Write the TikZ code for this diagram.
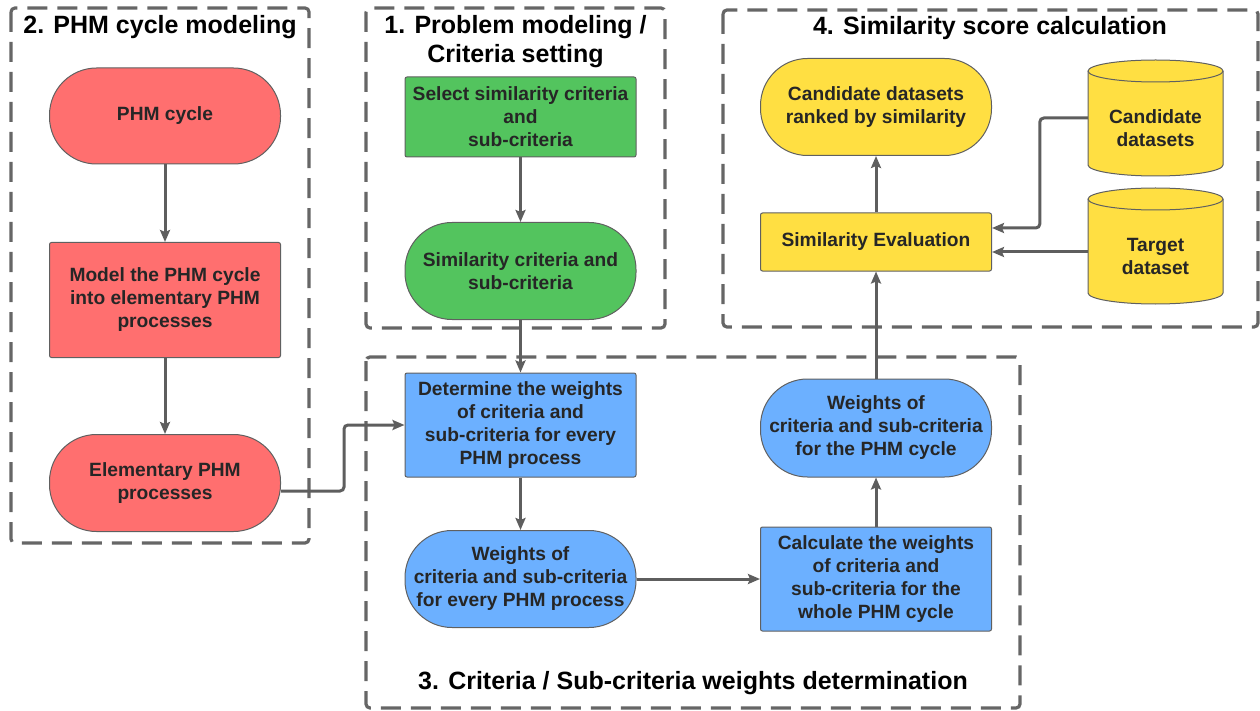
\documentclass[tikz,border=0pt]{standalone}
\usepackage{fontspec}
\setmainfont{Liberation Sans}
\usetikzlibrary{arrows.meta,calc}
\definecolor{redf}{HTML}{FF6F6F}
\definecolor{greenf}{HTML}{53C45E}
\definecolor{bluef}{HTML}{6CB0FF}
\definecolor{yellowf}{HTML}{FFDF42}
\definecolor{edgec}{HTML}{5E5E5E}
\definecolor{bord}{HTML}{606060}
\definecolor{txt}{HTML}{262626}
\definecolor{dashc}{HTML}{666666}
\begin{document}
\begin{tikzpicture}[x=1pt,y=-1pt,
  every node/.style={font=\bfseries\fontsize{19.2}{23}\selectfont, text=txt, align=center},
  box/.style={draw=bord, line width=1pt, rounded corners=2pt, minimum width=231pt, inner sep=0pt},
  term/.style={box, rounded corners=47pt},
  arr/.style={draw=edgec, line width=3pt, rounded corners=4pt, -{Stealth[length=12pt,width=10pt,inset=2pt]}},
  group/.style={draw=dashc, line width=3.2pt, dash pattern=on 20pt off 10pt, rounded corners=4pt},
  gtitle/.style={font=\bfseries\fontsize{25}{29}\selectfont, text=black},
  cyl/.style={fill=yellowf, draw=bord, line width=1pt},
]
\useasboundingbox (0,0) rectangle (1260,711);

% groups
\draw[group] (11,8) rectangle (309,543);
\draw[group] (366,8) rectangle (665,328);
\draw[group] (723,10) rectangle (1258,327);
\draw[group] (366,357) rectangle (1020,708);

\node[gtitle] (t2) at (160,27) {2. PHM cycle modeling};
\node[gtitle] (t1) at (515.5,42) {1. Problem modeling /\\Criteria setting};
\node[gtitle] (t4) at (990,28) {4. Similarity score calculation};
\node[gtitle] (t3) at (693,683) {3. Criteria / Sub-criteria weights determination};

% column 2
\node[term, fill=redf, minimum height=96pt] (phm) at (165,116) {PHM cycle};
\node[box, fill=redf, minimum height=115pt] (model) at (165,300) {Model the PHM cycle\\into elementary PHM\\processes};
\node[term, fill=redf, minimum height=97pt] (elem) at (165,483) {Elementary PHM\\processes};

% column 1
\node[box, fill=greenf, minimum height=80pt] (sel) at (520.5,117) {Select similarity criteria\\and\\sub-criteria};
\node[term, fill=greenf, minimum height=97pt] (simc) at (520.5,271) {Similarity criteria and\\sub-criteria};

% group 3
\node[box, fill=bluef, minimum height=104pt] (det) at (520.5,425) {Determine the weights\\of criteria and\\sub-criteria for every\\PHM process};
\node[term, fill=bluef, minimum height=97pt] (wev) at (520.5,579) {Weights of\\criteria and sub-criteria\\for every PHM process};
\node[box, fill=bluef, minimum height=104pt] (calcw) at (876,579) {Calculate the weights\\of criteria and\\sub-criteria for the\\whole PHM cycle};
\node[term, fill=bluef, minimum height=98pt] (wph) at (876,428) {Weights of\\criteria and sub-criteria\\for the PHM cycle};

% group 4
\node[box, fill=yellowf, minimum height=58pt] (sim) at (876,242) {Similarity Evaluation};
\node[term, fill=yellowf, minimum height=97pt] (rank) at (876,107) {Candidate datasets\\ranked by similarity};

% cylinders
\path[cyl] (1088,71) -- (1088,165) arc[start angle=180,end angle=360,x radius=67.5pt,y radius=11pt] -- (1223,71) arc[start angle=0,end angle=180,x radius=67.5pt,y radius=11pt] -- cycle;
\draw[bord, line width=1pt] (1088,71) arc[start angle=180,end angle=360,x radius=67.5pt,y radius=11pt];
\path[cyl] (1088,199) -- (1088,293) arc[start angle=180,end angle=360,x radius=67.5pt,y radius=11pt] -- (1223,199) arc[start angle=0,end angle=180,x radius=67.5pt,y radius=11pt] -- cycle;
\draw[bord, line width=1pt] (1088,199) arc[start angle=180,end angle=360,x radius=67.5pt,y radius=11pt];
\node[minimum width=135pt, minimum height=116pt, inner sep=0pt] (cand) at (1155.5,118) {};
\node (candtxt) at (1155.5,128) {Candidate\\datasets};
\node[minimum width=135pt, minimum height=116pt, inner sep=0pt] (tgt) at (1155.5,246) {};
\node (tgttxt) at (1155.5,256) {Target\\dataset};

% connectors
\draw[arr] (phm) -- (model);
\draw[arr] (model) -- (elem);
\draw[arr] ([yshift=-8pt]elem.east) -- ++(63,0) |- (det.west);
\draw[arr] (sel) -- (simc);
\draw[arr] (simc) -- (det);
\draw[arr] (det) -- (wev);
\draw[arr] (wev) -- (calcw);
\draw[arr] (calcw) -- (wph);
\draw[arr] (wph) -- (sim);
\draw[arr] (sim) -- (rank);
\draw[arr] (cand.west) -- ++(-48,0) |- ([yshift=14pt]sim.east);
\draw[arr] ([yshift=-6pt]tgt.west) -- ([yshift=-10pt]sim.east);
\end{tikzpicture}
\end{document}
